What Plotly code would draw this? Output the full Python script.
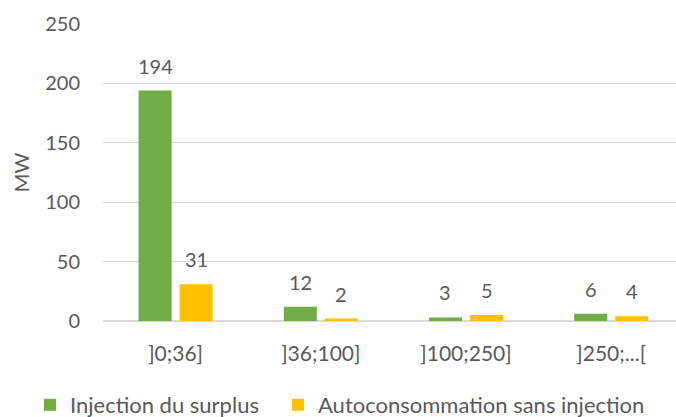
import plotly.graph_objects as go

categories = ["]0;36]", "]36;100]", "]100;250]", "]250;...["]
injection = [194, 12, 3, 6]
autoconso = [31, 2, 5, 4]
series_names = ["Injection du surplus", "Autoconsommation sans injection"]
y_ticks = [0, 50, 100, 150, 200, 250]

GREEN = "#70AD47"
YELLOW = "#FFC000"
TEXT = "#595959"
GRID = "#D9D9D9"
FONT = "Lato, Carlito, Calibri, sans-serif"
FS = 20

BARGAP = 0.435
BARGROUPGAP = 0.195

W, H = 676, 417
ML, MR, MT, MB = 103, 0, 24, 96
plot_w = W - ML - MR
plot_h = H - MT - MB
cat_px = 145.2
x_max = -0.5 + plot_w / cat_px


def px_to_paper_x(px):
    return (px - ML) / plot_w


def px_to_paper_y(py):
    return (H - MB - py) / plot_h


fig = go.Figure()
fig.add_trace(go.Bar(x=categories, y=injection, name=series_names[0],
                     marker=dict(color=GREEN, line=dict(width=0)),
                     legend="legend"))
fig.add_trace(go.Bar(x=categories, y=autoconso, name=series_names[1],
                     marker=dict(color=YELLOW, line=dict(width=0)),
                     legend="legend2"))

# data labels, placed from the data values with offset for grouped bars
slot_px = cat_px * (1 - BARGAP) / 2
annotations = []
for vals, shift in ((injection, -slot_px / 2), (autoconso, slot_px / 2)):
    for c, v in zip(categories, vals):
        annotations.append(dict(x=c, y=v, xref="x", yref="y", text=str(v),
                                showarrow=False, xshift=shift, yshift=25,
                                yanchor="middle",
                                font=dict(family=FONT, size=FS, color=TEXT)))

legend_common = dict(orientation="h", xanchor="left", yanchor="middle",
                     y=px_to_paper_y(405), font=dict(size=22, color=TEXT),
                     itemwidth=30, bgcolor="rgba(0,0,0,0)")

fig.update_layout(
    width=W, height=H,
    margin=dict(l=ML, r=MR, t=MT, b=MB, autoexpand=False),
    paper_bgcolor="white", plot_bgcolor="white",
    barmode="group", bargap=BARGAP, bargroupgap=BARGROUPGAP,
    font=dict(family=FONT, size=FS, color=TEXT),
    annotations=annotations,
    showlegend=True,
    legend=dict(x=px_to_paper_x(30), **legend_common),
    legend2=dict(x=px_to_paper_x(278), **legend_common),
)
fig.update_xaxes(range=[-0.5, x_max], showgrid=False, showline=False,
                 zeroline=False, ticks="outside", ticklen=14,
                 tickcolor="rgba(0,0,0,0)", tickfont=dict(size=21, color=TEXT),
                 fixedrange=True)
fig.update_yaxes(range=[0, 250], tickvals=y_ticks, showgrid=True,
                 gridcolor=GRID, gridwidth=1, zeroline=True,
                 zerolinecolor=GRID, zerolinewidth=1.5, showline=False,
                 ticks="outside", ticklen=18, tickcolor="rgba(0,0,0,0)",
                 tickfont=dict(size=FS, color=TEXT),
                 title=dict(text="MW", standoff=10,
                            font=dict(size=FS, color=TEXT)),
                 automargin=False, fixedrange=True)

fig.write_html("out.html", config={"displayModeBar": False},
               post_script="document.body.style.margin='0';")
